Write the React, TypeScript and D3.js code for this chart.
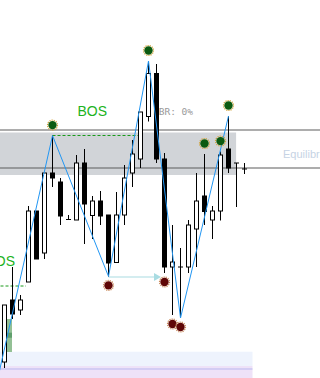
import React from "react";
import * as d3 from "d3";

// OHLC candles, one per bar index
const opens = [2008, 2039, 2034, 2048, 2083.5, 2062.5, 2102.5, 2098, 2079.2, 2079, 2107.5, 2081.2, 2088.5, 2081.5, 2057.8, 2081.5, 2102.5, 2109.5, 2130.7, 2152.3, 2109.5, 2055.5, 2055.5, 2055.5, 2074.5, 2091, 2079, 2083.5, 2114.5, 2107.5, 2104.5];
const highs = [2036.5, 2055.5, 2041.5, 2086, 2083.5, 2102.5, 2121.2, 2100, 2081.5, 2111.5, 2114.5, 2091, 2093.5, 2081.5, 2093, 2106.5, 2119, 2133, 2158.5, 2157, 2112.5, 2076.5, 2065, 2079, 2102.5, 2112, 2086, 2113.2, 2131, 2107.5, 2107.5];
const lows = [2005, 2029.5, 2031.5, 2048, 2059.5, 2059.5, 2095.5, 2076.5, 2079, 2079, 2067, 2069.5, 2076.5, 2050.8, 2057.8, 2076.5, 2095.5, 2105, 2128.2, 2107.5, 2052.5, 2031.5, 2030, 2052.5, 2055.5, 2076.5, 2069.5, 2078.7, 2102.5, 2085.5, 2102];
const closes = [2036.5, 2032, 2039, 2083.5, 2059.5, 2102.5, 2100, 2081, 2079.2, 2107.5, 2087, 2088.5, 2081, 2057.5, 2081.5, 2100, 2112, 2133, 2152.3, 2109.5, 2055.5, 2058, 2055.5, 2076.5, 2088.5, 2083.2, 2083.5, 2111.5, 2105, 2107.5, 2104.5];

// Zigzag swing points: [bar index, price]
const zigzagIdx = [-1, 6, 13, 18, 22, 28];
const zigzagPrice = [1997, 2121.2, 2050.8, 2158.5, 2030, 2131];

// Swing markers
const swingHighBars = [6, 18, 25, 27, 28];
const swingLowBars = [13, 20, 21, 22];

// Structure levels
const levelLines = [2124, 2105];
const zoneTop = 2122.75;
const zoneBottom = 2101.5;
const equilibriumPrice = 2110.2;

// Break of structure segments: [from bar, to bar, price]
const bosFrom = [-3, 6];
const bosTo = [3, 17];
const bosPrice = [2046, 2121.2];

// Order block and lower bands
const obTop = 2029.5;
const obBottom = 2013;
const obCoreTop = 2022.65;
const obCoreBottom = 2020.15;
const bandTop = 2013.15;
const bandMid = 2006;
const bandLine = 2004.5;
const bandBottom = 2000;

const W = 320;
const H = 378;

export default function App() {
  const x = d3.scaleLinear().domain([0, 30]).range([4.5, 244.5]);
  const y = d3.scaleLinear().domain([2000, 2189]).range([H, 0]);
  const py = (p: number) => Math.round(y(p) * 2) / 2;

  const zig = d3
    .line<[number, number]>()
    .x((d) => x(d[0]))
    .y((d) => y(d[1]));
  const zigData: [number, number][] = zigzagIdx.map((d, i) => [d, zigzagPrice[i]]);

  const candles = opens.map((o, i) => ({ i, o, h: highs[i], l: lows[i], c: closes[i] }));

  const marker = (cx: number, cy: number, fill: string, ring: string, key: string) => (
    <g key={key}>
      <circle cx={cx} cy={cy} r={5} fill="none" stroke={ring} strokeWidth={1.2} strokeDasharray="1.2 1" />
      <circle cx={cx} cy={cy} r={4.2} fill={fill} />
    </g>
  );

  const arrowY = py(lows[13]) + 0.5;
  const arrowX0 = x(13);
  const arrowX1 = x(20) - 3.5;

  return (
    <div style={{ position: "fixed", left: 0, top: 0, width: W, height: H, background: "#fff" }}>
      <svg width={W} height={H} style={{ display: "block" }} fontFamily="Liberation Sans, Arial, sans-serif">
        {/* lower bands */}
        <rect x={0} y={y(bandTop)} width={x(31) - 0} height={y(bandMid) - y(bandTop)} fill="#eef3fd" />
        <rect x={0} y={y(bandMid)} width={x(31) - 0} height={y(bandBottom) - y(bandMid)} fill="#eee2f8" />
        <line x1={0} x2={x(31)} y1={py(bandLine)} y2={py(bandLine)} stroke="#b9b6ef" strokeWidth={1} />

        {/* premium/discount zone */}
        <rect x={0} y={y(zoneTop)} width={x(28.95)} height={y(zoneBottom) - y(zoneTop)} fill="#d1d4d8" />
        {levelLines.map((p, k) => (
          <line key={k} x1={0} x2={W} y1={py(p)} y2={py(p)} stroke="#5c5c5c" strokeWidth={1.2} />
        ))}
        <text x={283} y={y(equilibriumPrice)} fontSize={11} fill="#c6d3e4">
          Equilibrium
        </text>

        {/* order block */}
        <rect x={x(0) + 2.2} y={y(obTop)} width={x(1) - x(0) - 2.7} height={y(obBottom) - y(obTop)} fill="#93c095" />
        <rect x={x(0) + 2.2} y={y(obCoreTop)} width={x(1) - x(0) - 2.7} height={y(obCoreBottom) - y(obCoreTop)} fill="#5f9f6c" />

        {/* BOS lines and labels */}
        {bosFrom.map((f, k) => {
          const x1 = x(f);
          const x2 = x(bosTo[k]) - 2.5;
          const yy = py(bosPrice[k]);
          return (
            <g key={k}>
              <line x1={x1} x2={x2} y1={yy} y2={yy} stroke="#1a9a1a" strokeWidth={1} strokeDasharray="3 2" />
              <text x={(x1 + x2) / 2 - 3} y={yy - 20} fontSize={14} fill="#1db31d" textAnchor="middle">
                BOS
              </text>
            </g>
          );
        })}

        <text x={153} y={115} fontSize={9.5} fill="#9a9a9a" fontFamily="DejaVu Sans Mono, monospace">
          FBR: 0%
        </text>

        {/* liquidity sweep arrow */}
        <line x1={arrowX0} x2={arrowX1 - 5} y1={arrowY} y2={arrowY} stroke="#a9dce2" strokeWidth={1.2} />
        <path
          d={`M${arrowX1},${arrowY} L${arrowX1 - 7},${arrowY - 4} L${arrowX1 - 7},${arrowY + 4} Z`}
          fill="#a9dce2"
        />

        {/* candles */}
        {candles.map((d) => {
          const cx = x(d.i);
          const up = d.c >= d.o;
          const top = py(Math.max(d.o, d.c));
          const bot = py(Math.min(d.o, d.c));
          return (
            <g key={d.i}>
              <line x1={cx} x2={cx} y1={py(d.h)} y2={py(d.l)} stroke="#000" strokeWidth={1} />
              {bot - top < 1 ? (
                <line x1={cx - 2.5} x2={cx + 2.5} y1={top} y2={top} stroke="#000" strokeWidth={1} />
              ) : (
                <rect
                  x={cx - 2}
                  y={top}
                  width={4}
                  height={bot - top}
                  fill={up ? "#fff" : "#000"}
                  stroke="#000"
                  strokeWidth={1}
                />
              )}
            </g>
          );
        })}

        {/* zigzag */}
        <path d={zig(zigData) || ""} fill="none" stroke="#2196f3" strokeWidth={1} />

        {/* swing markers */}
        {swingHighBars.map((b) => marker(x(b), y(highs[b]) - 10.5, "#0b5a10", "#d2a43c", `h${b}`))}
        {swingLowBars.map((b) => marker(x(b), y(lows[b]) + 9, "#5e0606", "#c98a5a", `l${b}`))}
      </svg>
    </div>
  );
}
